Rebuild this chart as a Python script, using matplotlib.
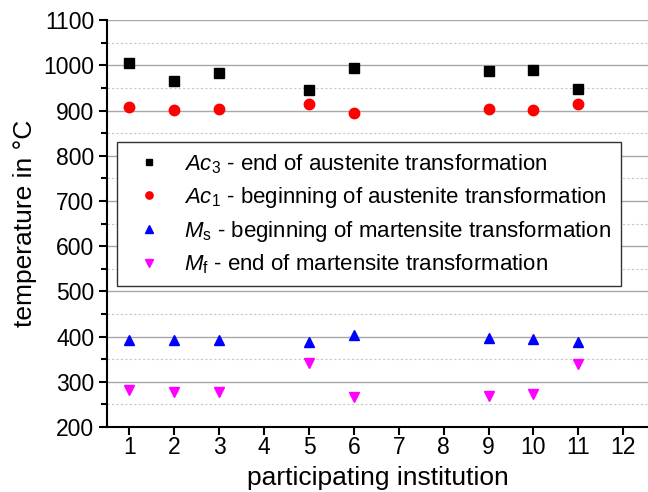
import matplotlib
matplotlib.use("Agg")
import matplotlib.pyplot as plt
from matplotlib.ticker import MultipleLocator

plt.rcParams['font.family'] = ['Liberation Sans', 'DejaVu Sans']
plt.rcParams['mathtext.fontset'] = 'custom'
plt.rcParams['mathtext.rm'] = 'Liberation Sans'
plt.rcParams['mathtext.it'] = 'Liberation Sans:italic'

# data
institution = [1, 2, 3, 5, 6, 9, 10, 11]
ac3 = [1006, 966, 984, 945, 995, 987, 990, 947]
ac1 = [908, 902, 903, 914, 895, 903, 902, 914]
ms = [392, 393, 392, 388, 403, 398, 395, 388]
mf = [281, 278, 278, 342, 266, 268, 274, 340]
labels = [r'$\it{Ac}_3$ - end of austenite transformation',
          r'$\it{Ac}_1$ - beginning of austenite transformation',
          r'$\it{M}_\mathrm{s}$ - beginning of martensite transformation',
          r'$\it{M}_\mathrm{f}$ - end of martensite transformation']

fig = plt.figure(figsize=(6.48, 4.92), dpi=100)
ax = fig.add_axes([0.165, 0.132, 0.835, 0.827])

ax.plot(institution, ac3, 's', color='black', ms=6.8, label=labels[0], zorder=3)
ax.plot(institution, ac1, 'o', color='red', ms=7.5, label=labels[1], zorder=3)
ax.plot(institution, ms, '^', color='blue', ms=7.5, label=labels[2], zorder=3)
ax.plot(institution, mf, 'v', color='magenta', ms=7.5, label=labels[3], zorder=3)

ax.set_xlim(0.5, 12.55)
ax.set_ylim(200, 1100)
ax.set_xticks(range(1, 13))
ax.yaxis.set_major_locator(MultipleLocator(100))
ax.yaxis.set_minor_locator(MultipleLocator(50))
ax.grid(True, which='major', axis='y', color='#a8a8a8', lw=1.0)
ax.grid(True, which='minor', axis='y', color='#c8c8c8', lw=0.8, ls=(0, (2, 2)))
ax.set_axisbelow(True)

for s in ['top', 'right']:
    ax.spines[s].set_visible(False)
ax.spines['left'].set_linewidth(1.5)
ax.spines['bottom'].set_linewidth(1.5)
ax.tick_params(axis='both', which='major', direction='out', length=6, width=1.5,
               labelsize=16.5, pad=3)
ax.tick_params(axis='x', which='major', pad=0.5)
ax.tick_params(axis='y', which='minor', direction='out', length=4, width=1.5)

ax.set_xlabel('participating institution', fontsize=19)
ax.set_ylabel('temperature in °C', fontsize=19)
ax.xaxis.set_label_coords(0.5, -0.095)
ax.yaxis.set_label_coords(-0.13, 0.5)
ax.xaxis.label.set_va('top')
ax.yaxis.label.set_va('bottom')

leg = ax.legend(loc='upper left', bbox_to_anchor=(0.018, 0.70), fontsize=16,
                markerscale=0.7, fancybox=False, framealpha=1, edgecolor='#333333',
                handletextpad=0.6, labelspacing=0.4, borderpad=0.45,
                borderaxespad=0)
leg.get_frame().set_linewidth(1.0)

fig.savefig('out.png', dpi=100)
